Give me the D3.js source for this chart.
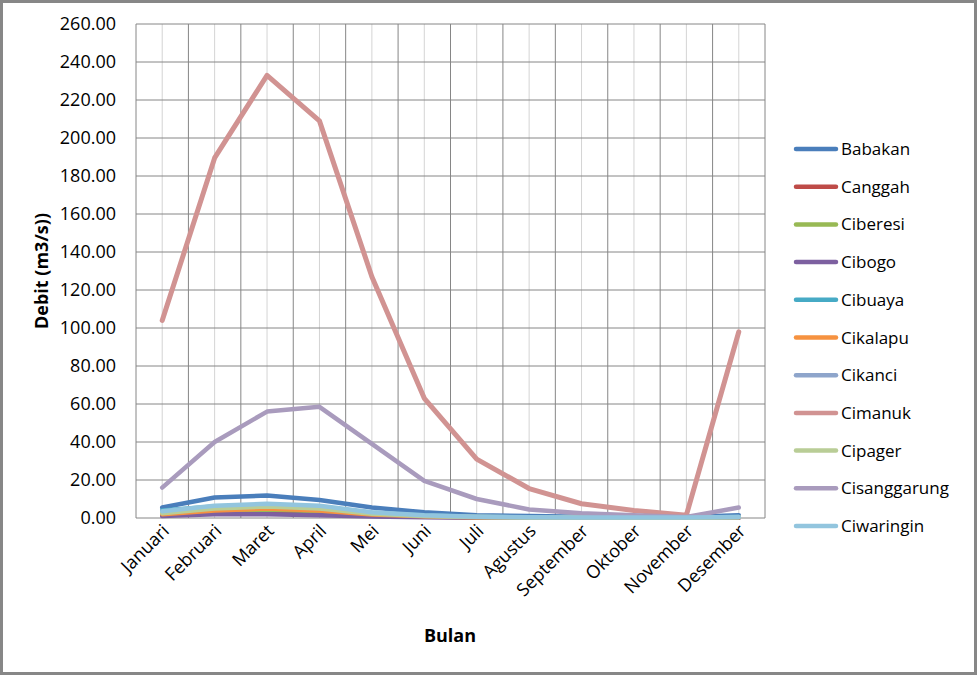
<!DOCTYPE html>
<html>
<head>
<meta charset="utf-8">
<script src="https://cdn.jsdelivr.net/npm/d3@7"></script>
<style>
  body { margin: 0; background: #fff; }
  svg { display: block; font-family: "Open Sans", "Noto Sans", sans-serif; }
</style>
</head>
<body>
<div id="chart"></div>
<script>
// Categories and series values (debit, m3/s)
var months = ["Januari", "Februari", "Maret", "April", "Mei", "Juni", "Juli",
              "Agustus", "September", "Oktober", "November", "Desember"];
var seriesNames = ["Babakan", "Canggah", "Ciberesi", "Cibogo", "Cibuaya", "Cikalapu",
                   "Cikanci", "Cimanuk", "Cipager", "Cisanggarung", "Ciwaringin"];
var seriesColors = ["#4a7ebb", "#be4b48", "#98b954", "#7d60a0", "#46aac5", "#f69240",
                    "#8ea5cb", "#d19392", "#b9cd96", "#a99bbd", "#92c5de"];

var babakan      = [5.5, 10.8, 11.8, 9.5, 5.5, 3.0, 1.5, 1.0, 0.7, 0.5, 0.5, 1.5];
var canggah      = [1.5, 3.0, 3.5, 2.5, 1.2, 0.6, 0.3, 0.2, 0.1, 0.1, 0.1, 0.3];
var ciberesi     = [2.0, 4.0, 4.5, 3.5, 1.6, 0.8, 0.4, 0.2, 0.1, 0.1, 0.1, 0.4];
var cibogo       = [1.0, 2.0, 2.0, 1.5, 0.8, 0.4, 0.2, 0.1, 0.1, 0.1, 0.1, 0.2];
var cibuaya      = [4.0, 6.0, 6.5, 5.5, 2.8, 1.3, 0.6, 0.3, 0.2, 0.1, 0.1, 0.5];
var cikalapu     = [2.0, 4.0, 5.0, 4.0, 1.8, 0.9, 0.4, 0.2, 0.1, 0.1, 0.1, 0.4];
var cikanci      = [3.0, 5.5, 7.0, 6.0, 2.6, 1.2, 0.6, 0.3, 0.2, 0.1, 0.1, 0.5];
var cimanuk      = [104, 189.5, 233, 209, 127, 63, 31, 15.5, 7.5, 4, 1.5, 98];
var cipager      = [2.5, 5.0, 6.0, 5.0, 2.2, 1.0, 0.5, 0.3, 0.2, 0.1, 0.1, 0.4];
var cisanggarung = [16, 40, 56, 58.5, 39, 19.5, 10, 4.5, 2.5, 1.5, 0.5, 5.5];
var ciwaringin   = [3.5, 6.5, 7.5, 6.5, 3.0, 1.5, 0.7, 0.4, 0.3, 0.2, 0.2, 0.5];

var seriesValues = [babakan, canggah, ciberesi, cibogo, cibuaya, cikalapu,
                    cikanci, cimanuk, cipager, cisanggarung, ciwaringin];
var yTicks = [0, 20, 40, 60, 80, 100, 120, 140, 160, 180, 200, 220, 240, 260];

var W = 977, H = 675;
var margin = { top: 24, left: 136, right: 212, bottom: 157 };
var width = W - margin.left - margin.right,
    height = H - margin.top - margin.bottom;

var svg = d3.select("#chart").append("svg")
    .attr("width", W)
    .attr("height", H);

// outer frame
svg.append("rect")
    .attr("x", 1.5).attr("y", 1.5)
    .attr("width", W - 3).attr("height", H - 3)
    .attr("fill", "#fff")
    .attr("stroke", "#878787")
    .attr("stroke-width", 3);

var g = svg.append("g")
    .attr("transform", `translate(${margin.left},${margin.top})`);

var x = d3.scaleBand().domain(months).range([0, width]);
var y = d3.scaleLinear().domain([0, 260]).range([height, 0]);
var xc = d => x(d) + x.bandwidth() / 2;

// light vertical lines at category centers
g.selectAll(".vminor").data(months).enter().append("line")
    .attr("x1", d => xc(d)).attr("x2", d => xc(d))
    .attr("y1", 0).attr("y2", height)
    .attr("stroke", "#d4d4d4").attr("stroke-width", 1);

// dark vertical lines at category boundaries
var bounds = months.map(d => x(d)).concat([width]);
g.selectAll(".vmajor").data(bounds).enter().append("line")
    .attr("x1", d => d).attr("x2", d => d)
    .attr("y1", 0).attr("y2", height)
    .attr("stroke", "#868686").attr("stroke-width", 1);

// horizontal grid
g.selectAll(".hgrid").data(yTicks).enter().append("line")
    .attr("x1", 0).attr("x2", width)
    .attr("y1", d => y(d)).attr("y2", d => y(d))
    .attr("stroke", "#868686").attr("stroke-width", 1);

// y axis labels
var yAxis = g.append("g")
    .call(d3.axisLeft(y).tickValues(yTicks).tickFormat(d3.format(".2f")).tickSize(0).tickPadding(20));
yAxis.select(".domain").remove();
yAxis.selectAll("text")
    .attr("font-family", "Open Sans, sans-serif")
    .attr("font-size", "18px")
    .attr("fill", "#000");

// x axis labels
var xAxis = g.append("g")
    .attr("transform", `translate(0,${height})`)
    .call(d3.axisBottom(x).tickSize(0).tickPadding(0));
xAxis.select(".domain").remove();
xAxis.selectAll("text")
    .attr("font-family", "Open Sans, sans-serif")
    .attr("font-size", "18px")
    .attr("fill", "#000")
    .attr("dy", 0)
    .style("text-anchor", "end")
    .attr("transform", "translate(8,14) rotate(-45)");

// lines
var line = d3.line()
    .x((d, i) => xc(months[i]))
    .y(d => y(d));

seriesValues.forEach(function (vals, i) {
    g.append("path")
        .datum(vals)
        .attr("fill", "none")
        .attr("stroke", seriesColors[i])
        .attr("stroke-width", i === 7 ? 5 : 4.5)
        .attr("stroke-linejoin", "round")
        .attr("stroke-linecap", "round")
        .attr("d", line);
});

// axis titles
svg.append("text")
    .attr("transform", `translate(48,${margin.top + height / 2}) rotate(-90)`)
    .attr("text-anchor", "middle")
    .attr("font-size", "18px")
    .attr("font-weight", "bold")
    .text("Debit (m3/s))");

svg.append("text")
    .attr("x", 450).attr("y", 642)
    .attr("text-anchor", "middle")
    .attr("font-size", "18px")
    .attr("font-weight", "bold")
    .text("Bulan");

// legend
var legend = svg.append("g").attr("transform", "translate(796,149)");
seriesNames.forEach(function (name, i) {
    var row = legend.append("g").attr("transform", `translate(0,${i * 37.7})`);
    row.append("line")
        .attr("x1", 0).attr("x2", 40)
        .attr("stroke", seriesColors[i])
        .attr("stroke-width", 4.5)
        .attr("stroke-linecap", "round");
    row.append("text")
        .attr("x", 45).attr("y", 6)
        .attr("font-size", "17px")
        .text(name);
});
</script>
</body>
</html>
